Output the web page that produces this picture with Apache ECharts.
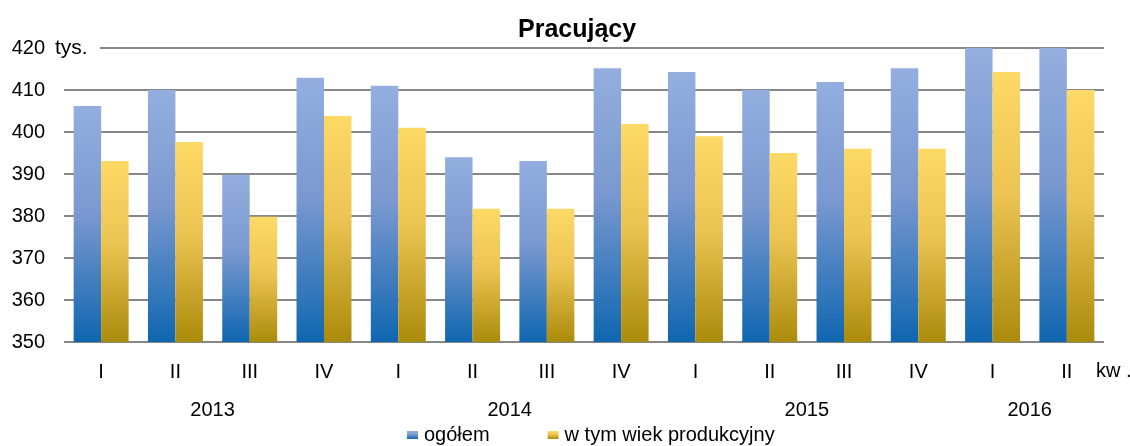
<!DOCTYPE html>
<html>
<head>
<meta charset="utf-8">
<script src="https://cdn.jsdelivr.net/npm/echarts@6/dist/echarts.min.js"></script>
<style>
  html, body { margin: 0; padding: 0; background: #fff; }
  #chart { width: 1130px; height: 446px; }
</style>
</head>
<body>
<div id="chart"></div>
<script>
// ================= dane =================
const quarters = ['I', 'II', 'III', 'IV', 'I', 'II', 'III', 'IV', 'I', 'II', 'III', 'IV', 'I', 'II']
const yearLabels = { 2: '2013', 6: '2014', 10: '2015', 13: '2016' }
const ogolem = [406.2, 410, 389.8, 412.9, 411, 394, 393.1, 415.2, 414.3, 410, 411.9, 415.2, 420, 420]
const produkcyjny = [393.1, 397.6, 379.8, 403.8, 401, 381.7, 381.7, 401.9, 399, 395, 396, 396, 414.3, 410]
const seriesNames = ['ogółem', 'w tym wiek produkcyjny']

const font = 'Liberation Sans, Arial, sans-serif'

const grad = (c0, c1, c2) => new echarts.graphic.LinearGradient(0, 0, 0, 1, [
  { offset: 0, color: c0 },
  { offset: 0.45, color: c1 },
  { offset: 1, color: c2 }
])

const chart = echarts.init(document.getElementById('chart'))

const option = {
  animation: false,
  title: {
    text: 'Pracujący',
    left: 513,
    top: 13,
    textStyle: { fontFamily: font, fontSize: 25, fontWeight: 'bold', color: '#000' }
  },
  grid: { left: 64, right: 26, top: 48, bottom: 104 },
  legend: {
    left: 402,
    top: 420,
    itemWidth: 11,
    itemHeight: 8,
    itemGap: 58,
    icon: 'rect',
    selectedMode: false,
    textStyle: { fontFamily: font, fontSize: 20, color: '#000', padding: [0, 0, 0, 1] },
    data: seriesNames
  },
  xAxis: [
    {
      type: 'category',
      data: quarters,
      axisLine: { show: false },
      axisTick: { show: false },
      axisLabel: { fontFamily: font, fontSize: 20, color: '#000', margin: 20 }
    },
    {
      type: 'value',
      position: 'bottom',
      min: 0,
      max: 14,
      interval: 1,
      offset: 38,
      axisLine: { show: false },
      axisTick: { show: false },
      splitLine: { show: false },
      axisLabel: {
        fontFamily: font, fontSize: 20, color: '#000', margin: 20,
        showMinLabel: true, showMaxLabel: true,
        formatter: (v) => yearLabels[v] || ''
      }
    }
  ],
  yAxis: {
    type: 'value',
    min: 350,
    max: 420,
    interval: 10,
    axisLine: { show: false },
    axisTick: { show: false },
    axisLabel: { fontFamily: font, fontSize: 20, color: '#000', margin: 19 },
    splitLine: { lineStyle: { color: '#878787', width: 2 } }
  },
  graphic: [
    { type: 'rect', left: 56, top: 43, shape: { width: 44, height: 10 }, style: { fill: '#fff' }, z: 100 },
    { type: 'text', left: 55, top: 38, style: { text: 'tys.', font: '21px ' + font, fill: '#000' }, z: 101 },
    { type: 'text', left: 1096, top: 361, style: { text: 'kw .', font: '20px ' + font, fill: '#000' }, z: 101 }
  ],
  series: [
    {
      name: seriesNames[0],
      type: 'bar',
      barGap: '0%',
      barCategoryGap: '26%',
      itemStyle: { color: grad('#93aedf', '#7b99d0', '#0f66b0') },
      data: ogolem
    },
    {
      name: seriesNames[1],
      type: 'bar',
      itemStyle: { color: grad('#fdd966', '#ecc453', '#ab8b0b') },
      data: produkcyjny
    }
  ]
}

chart.setOption(option)
</script>
</body>
</html>
